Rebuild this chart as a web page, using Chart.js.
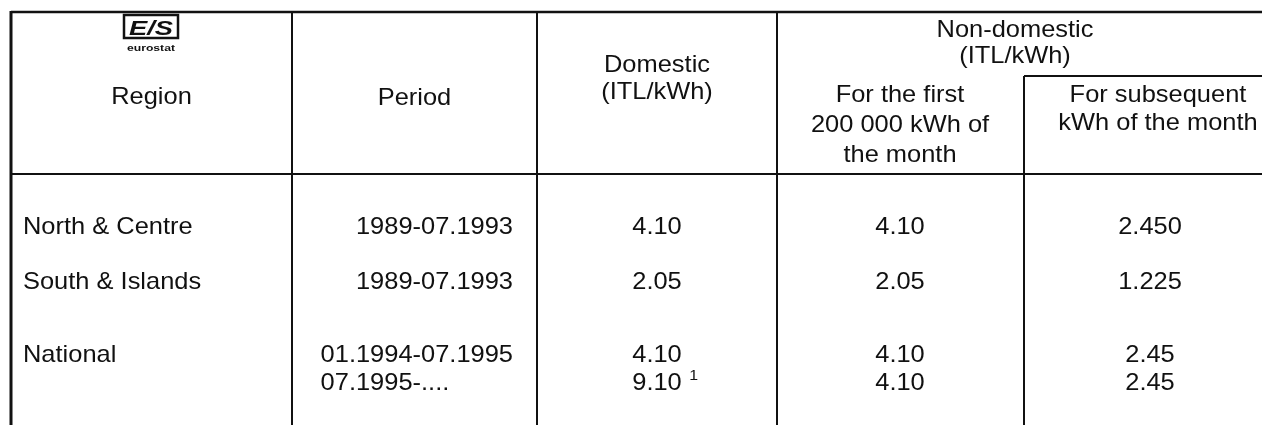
<!DOCTYPE html>
<html><head><meta charset="utf-8">
<script src="https://cdn.jsdelivr.net/npm/chart.js@4.4.0/dist/chart.umd.min.js"></script>
<style>html,body{margin:0;padding:0;background:#fff;overflow:hidden}#wrap{width:1262px;height:425px}</style>
</head><body><div id="wrap"><canvas id="c" width="1262" height="425"></canvas></div>
<script>
// ---- data ----
const regions = ["North & Centre", "South & Islands", "National", ""];
const periods = ["1989-07.1993", "1989-07.1993", "01.1994-07.1995", "07.1995-...."];
const domestic = ["4.10", "2.05", "4.10", "9.10"];
const domesticNotes = ["", "", "", "1"];
const nonDomFirst = ["4.10", "2.05", "4.10", "4.10"];
const nonDomSubsequent = ["2.450", "1.225", "2.45", "2.45"];
const headRegion = ["Region"];
const headPeriod = ["Period"];
const headDomestic = ["Domestic", "(ITL/kWh)"];
const headNonDom = ["Non-domestic", "(ITL/kWh)"];
const headFirst = ["For the first", "200 000 kWh of", "the month"];
const headSubsequent = ["For subsequent", "kWh of the month"];

// ---- layout (scale units) ----
const L = {
  W: 1262, H: 425,
  left: 11, top: 12, headBottom: 174, subLine: 76,
  vlines: [292, 537, 777, 1024],
  rowY: [234, 289, 362, 390],
  xRegion: 23, xPeriodRight: 513, xDom: 657, xFirst: 900, xSub: 1150,
  logoX: 151, logoY: 15,
  regionY: 104, periodY: 105, domY: [72, 99], nonDomY: [37, 63], nonDomX: 1015,
  firstY: [102, 132, 162], subY: [102, 130], subX: 1158
};
const FONT = '24px "Liberation Sans", Arial, Helvetica, sans-serif';
const SX = 1.06;
const INK = '#111111';

function pts(col) { return L.rowY.map(y => ({x: col, y: y})); }

const tablePlugin = {
  id: 'table',
  afterDatasetsDraw(chart) {
    const ctx = chart.ctx, xs = chart.scales.x, ys = chart.scales.y;
    const X = v => xs.getPixelForValue(v), Y = v => ys.getPixelForValue(v);
    ctx.save();
    ctx.strokeStyle = INK; ctx.fillStyle = INK;
    function line(x1, y1, x2, y2, w) {
      ctx.lineWidth = w; ctx.beginPath(); ctx.moveTo(X(x1), Y(y1)); ctx.lineTo(X(x2), Y(y2)); ctx.stroke();
    }
    function txt(s, x, y, align, font) {
      ctx.save(); ctx.font = font || FONT; ctx.translate(X(x), Y(y)); ctx.scale(SX, 1);
      ctx.textAlign = align; ctx.textBaseline = 'alphabetic'; ctx.fillText(s, 0, 0); ctx.restore();
    }
    function width(s) { ctx.save(); ctx.font = FONT; const w = ctx.measureText(s).width * SX; ctx.restore(); return w; }
    // borders and grid
    line(L.left, L.top, L.W, L.top, 2.5);
    line(L.left, L.top - 1, L.left, L.H, 3);
    line(L.left, L.headBottom, L.W, L.headBottom, 2);
    line(L.vlines[3], L.subLine, L.W, L.subLine, 2);
    L.vlines.forEach((v, i) => line(v, i === 3 ? L.subLine : L.top, v, L.H, 2));
    // logo
    const lx = X(L.logoX), ly = Y(L.logoY);
    ctx.lineWidth = 2.5; ctx.strokeRect(lx - 27, ly, 54, 23);
    ctx.save(); ctx.font = 'bold italic 21px "Liberation Sans", Arial, sans-serif'; ctx.textAlign = 'center';
    ctx.translate(lx, ly + 20); ctx.scale(1.3, 1); ctx.fillText('E/S', 0, 0); ctx.restore();
    ctx.save(); ctx.font = 'bold 9px "Liberation Sans", Arial, sans-serif'; ctx.textAlign = 'center';
    ctx.translate(lx, ly + 36); ctx.scale(1.35, 1); ctx.fillText('eurostat', 0, 0); ctx.restore();
    // headers
    txt(headRegion[0], (L.left + L.vlines[0]) / 2, L.regionY, 'center');
    txt(headPeriod[0], (L.vlines[0] + L.vlines[1]) / 2, L.periodY, 'center');
    headDomestic.forEach((s, i) => txt(s, L.xDom, L.domY[i], 'center'));
    headNonDom.forEach((s, i) => txt(s, L.nonDomX, L.nonDomY[i], 'center'));
    headFirst.forEach((s, i) => txt(s, L.xFirst, L.firstY[i], 'center'));
    headSubsequent.forEach((s, i) => txt(s, L.subX, L.subY[i], 'center'));
    // body: region and period columns
    regions.forEach((s, i) => { if (s) txt(s, L.xRegion, L.rowY[i], 'left'); });
    let blockLeft = null;
    periods.forEach((s, i) => {
      if (i === 3 && blockLeft !== null) { txt(s, blockLeft, L.rowY[i], 'left'); return; }
      txt(s, L.xPeriodRight, L.rowY[i], 'right');
      if (i === 2) blockLeft = L.xPeriodRight - width(s);
    });
    // numeric datasets drawn at element positions computed by the library
    chart.data.datasets.forEach((ds, di) => {
      const meta = chart.getDatasetMeta(di);
      meta.data.forEach((el, i) => {
        const s = ds.labels[i];
        ctx.save(); ctx.font = FONT; ctx.translate(el.x, el.y); ctx.scale(SX, 1);
        ctx.textAlign = 'center'; ctx.fillText(s, 0, 0);
        if (ds.notes && ds.notes[i]) {
          const w = ctx.measureText(s).width;
          ctx.font = '15px "Liberation Sans", Arial, sans-serif'; ctx.textAlign = 'left';
          ctx.fillText(ds.notes[i], w / 2 + 7, -10);
        }
        ctx.restore();
      });
    });
    ctx.restore();
  }
};

new Chart(document.getElementById('c'), {
  type: 'scatter',
  data: {
    datasets: [
      {label: 'Domestic', data: pts(L.xDom), labels: domestic, notes: domesticNotes, pointRadius: 0},
      {label: 'Non-domestic first 200 000 kWh', data: pts(L.xFirst), labels: nonDomFirst, pointRadius: 0},
      {label: 'Non-domestic subsequent kWh', data: pts(L.xSub), labels: nonDomSubsequent, pointRadius: 0}
    ]
  },
  options: {
    responsive: false, animation: false, devicePixelRatio: 1,
    layout: {padding: 0},
    plugins: {legend: {display: false}, tooltip: {enabled: false}},
    scales: {
      x: {type: 'linear', min: 0, max: L.W, display: false},
      y: {type: 'linear', min: 0, max: L.H, reverse: true, display: false}
    }
  },
  plugins: [tablePlugin]
});
</script></body></html>
